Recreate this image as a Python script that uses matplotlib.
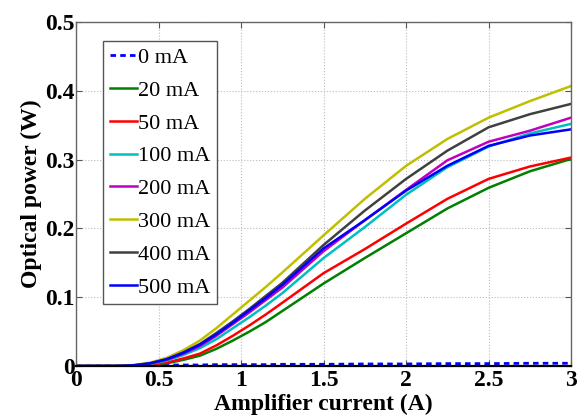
import matplotlib
matplotlib.use("Agg")
import matplotlib.pyplot as plt

# amplifier current (A)
current = [0.0, 0.25, 0.35, 0.45, 0.55, 0.65, 0.75, 0.85, 0.95, 1.05, 1.15,
           1.25, 1.5, 1.75, 2.0, 2.25, 2.5, 2.75, 3.0]

# optical power (W) for each seed current
p_0 = [0.0, 0.0005, 0.001, 0.001, 0.0015, 0.0015, 0.0015, 0.002, 0.002, 0.002,
       0.002, 0.0025, 0.0025, 0.003, 0.003, 0.0035, 0.0035, 0.004, 0.004]
p_20 = [0.0, 0.0, 0.0005, 0.0015, 0.004, 0.009, 0.015, 0.025, 0.037, 0.050,
        0.064, 0.080, 0.120, 0.157, 0.193, 0.229, 0.259, 0.283, 0.301]
p_50 = [0.0, 0.0, 0.0005, 0.002, 0.005, 0.011, 0.018, 0.030, 0.044, 0.059,
        0.075, 0.092, 0.135, 0.170, 0.207, 0.243, 0.272, 0.290, 0.303]
p_100 = [0.0, 0.0, 0.001, 0.003, 0.008, 0.016, 0.026, 0.039, 0.055, 0.071,
         0.088, 0.106, 0.157, 0.202, 0.249, 0.289, 0.319, 0.338, 0.352]
p_200 = [0.0, 0.0, 0.001, 0.004, 0.009, 0.018, 0.029, 0.044, 0.061, 0.078,
         0.096, 0.114, 0.167, 0.212, 0.256, 0.299, 0.326, 0.342, 0.361]
p_300 = [0.0, 0.0, 0.0015, 0.005, 0.012, 0.023, 0.037, 0.055, 0.075, 0.095,
         0.115, 0.136, 0.190, 0.243, 0.291, 0.330, 0.361, 0.385, 0.407]
p_400 = [0.0, 0.0, 0.001, 0.004, 0.010, 0.020, 0.032, 0.048, 0.065, 0.083,
         0.102, 0.121, 0.176, 0.226, 0.272, 0.313, 0.347, 0.366, 0.381]
p_500 = [0.0, 0.0, 0.001, 0.004, 0.010, 0.019, 0.031, 0.046, 0.063, 0.081,
         0.099, 0.118, 0.171, 0.212, 0.255, 0.291, 0.320, 0.335, 0.344]

labels = ["0 mA", "20 mA", "50 mA", "100 mA", "200 mA", "300 mA", "400 mA", "500 mA"]
series = [p_0, p_20, p_50, p_100, p_200, p_300, p_400, p_500]
colors = ["#0000ff", "#007f00", "#ff0000", "#00bfbf", "#bf00bf", "#bfbf00",
          "#404040", "#0000ff"]

plt.rcParams["font.family"] = ["Liberation Serif", "DejaVu Serif"]

fig = plt.figure(figsize=(5.81, 4.15), dpi=100)
ax = fig.add_axes([0.131, 0.118, 0.852, 0.829])

for lab, ys, col in zip(labels, series, colors):
    if lab == "0 mA":
        ax.plot(current, ys, color=col, lw=2, ls=(0, (2, 1.5)), label=lab)
    else:
        ax.plot(current, ys, color=col, lw=1.8, label=lab)

ax.set_xlim(0, 3)
ax.set_ylim(0, 0.5)
ax.set_xticks([0, 0.5, 1, 1.5, 2, 2.5, 3])
ax.set_xticklabels(["0", "0.5", "1", "1.5", "2", "2.5", "3"])
ax.set_yticks([0, 0.1, 0.2, 0.3, 0.4, 0.5])
ax.set_yticklabels(["0", "0.1", "0.2", "0.3", "0.4", "0.5"])
ax.tick_params(direction="in", length=4, width=0.8, top=True, right=True,
               labelsize=17, pad=1, color="#555555")
ax.tick_params(axis="x", pad=3)
for t in ax.get_xticklabels() + ax.get_yticklabels():
    t.set_fontweight("bold")
ax.grid(True, ls=":", color="#bbbbbb", lw=0.8)
for s in ax.spines.values():
    s.set_color("#666666")
    s.set_linewidth(1.0)
ax.spines["bottom"].set_color("black")
ax.spines["bottom"].set_linewidth(1.6)

ax.set_xlabel("Amplifier current (A)", fontsize=17, fontweight="bold", labelpad=2)
ax.set_ylabel("Optical power (W)", fontsize=17, fontweight="bold", labelpad=2)

leg = ax.legend(loc="upper left", bbox_to_anchor=(0.055, 0.945), fontsize=16,
                handlelength=1.2, handletextpad=0.05, labelspacing=0.55,
                borderpad=0.3, borderaxespad=0, fancybox=False, framealpha=1)
leg.get_frame().set_edgecolor("#555555")
leg.get_frame().set_linewidth(1.0)

fig.savefig("out.png", dpi=100)
